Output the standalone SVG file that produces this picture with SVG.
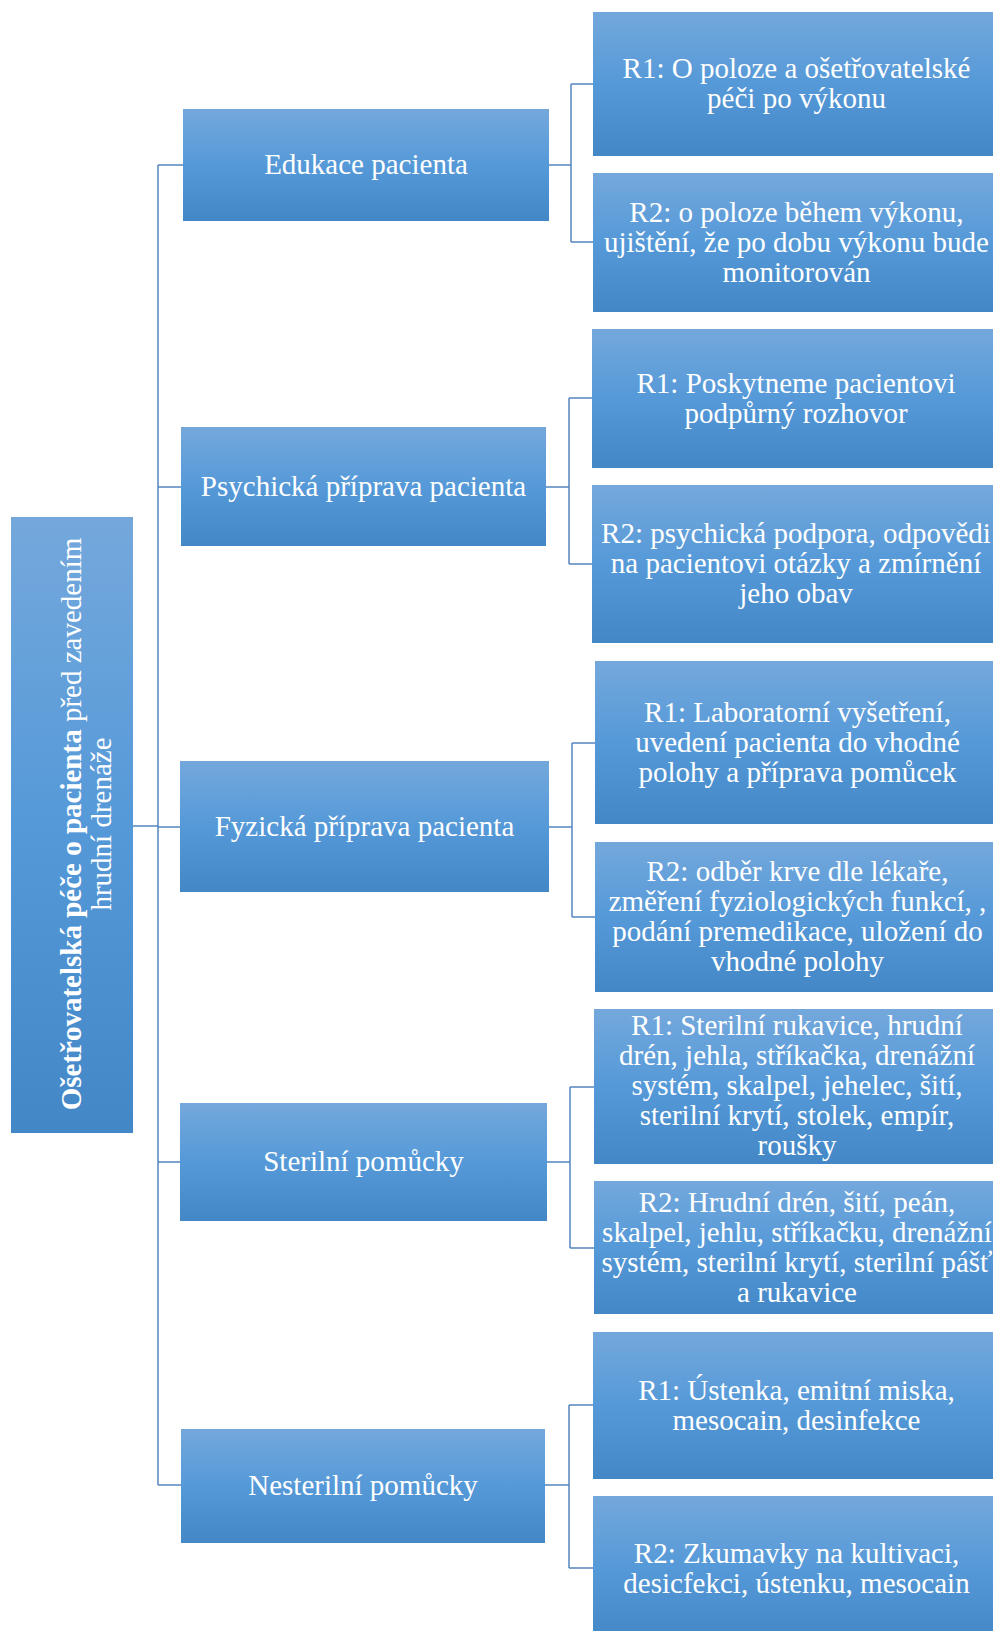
<svg xmlns="http://www.w3.org/2000/svg" width="993" height="1631" viewBox="0 0 993 1631">
  <style>
    .box { fill: url(#boxFill); }
    .lbl { font-family: "Liberation Serif", "Times New Roman", serif; font-size: 29px; fill: #ffffff; text-anchor: middle; }
    .conn { fill: none; stroke: #5485bf; stroke-width: 1.5; }
    .b { font-weight: bold; }
  </style>
  <defs>
    <linearGradient id="boxFill" x1="0" y1="0" x2="0" y2="1">
      <stop offset="0" stop-color="#74a8dc"/>
      <stop offset="0.5" stop-color="#5599d8"/>
      <stop offset="1" stop-color="#4387c7"/>
    </linearGradient>
  </defs>

  <rect width="993" height="1631" fill="#ffffff"/>

  <!-- connectors -->
  <g id="connectors" class="conn">
    <path d="M133 826 H158"/>
    <path d="M158 165 V1485"/>
    <path d="M158 165 H183 M158 487 H181 M158 827 H180 M158 1162 H180 M158 1485 H181"/>
    <path d="M549 165 H571 M571 84 V242 M571 84 H593 M571 242 H593"/>
    <path d="M546 487 H569 M569 398 V564 M569 398 H592 M569 564 H592"/>
    <path d="M549 827 H572 M572 743 V917 M572 743 H595 M572 917 H595"/>
    <path d="M547 1162 H570 M570 1087 V1248 M570 1087 H594 M570 1248 H594"/>
    <path d="M545 1485 H569 M569 1405 V1568 M569 1405 H593 M569 1568 H593"/>
  </g>

  <!-- root -->
  <g id="root">
    <rect class="box" x="11" y="517" width="122" height="616"/>
    <text class="lbl" transform="rotate(-90)" x="-824" y="81"><tspan class="b">Ošetřovatelská péče o pacienta</tspan> před zavedením</text>
    <text class="lbl" transform="rotate(-90)" x="-824" y="111">hrudní drenáže</text>
  </g>

  <!-- level 2 -->
  <g id="edukace">
    <rect class="box" x="183" y="109" width="366" height="112"/>
    <text class="lbl" x="366" y="174">Edukace pacienta</text>
  </g>
  <g id="psychicka">
    <rect class="box" x="181" y="427" width="365" height="119"/>
    <text class="lbl" x="363.5" y="496">Psychická příprava pacienta</text>
  </g>
  <g id="fyzicka">
    <rect class="box" x="180" y="761" width="369" height="131"/>
    <text class="lbl" x="364.5" y="836">Fyzická příprava pacienta</text>
  </g>
  <g id="sterilni">
    <rect class="box" x="180" y="1103" width="367" height="118"/>
    <text class="lbl" x="363.5" y="1171">Sterilní pomůcky</text>
  </g>
  <g id="nesterilni">
    <rect class="box" x="181" y="1429" width="364" height="114"/>
    <text class="lbl" x="363" y="1495">Nesterilní pomůcky</text>
  </g>

  <!-- level 3: Edukace -->
  <g id="edukace-r1">
    <rect class="box" x="593" y="12" width="407" height="144"/>
    <text class="lbl" x="796.5" y="78">R1: O poloze a ošetřovatelské</text>
    <text class="lbl" x="796.5" y="108">péči po výkonu</text>
  </g>
  <g id="edukace-r2">
    <rect class="box" x="593" y="173" width="407" height="139"/>
    <text class="lbl" x="796.5" y="222">R2: o poloze během výkonu,</text>
    <text class="lbl" x="796.5" y="252">ujištění, že po dobu výkonu bude</text>
    <text class="lbl" x="796.5" y="282">monitorován</text>
  </g>

  <!-- level 3: Psychická -->
  <g id="psychicka-r1">
    <rect class="box" x="592" y="329" width="408" height="139"/>
    <text class="lbl" x="796" y="393">R1: Poskytneme pacientovi</text>
    <text class="lbl" x="796" y="423">podpůrný rozhovor</text>
  </g>
  <g id="psychicka-r2">
    <rect class="box" x="592" y="485" width="408" height="158"/>
    <text class="lbl" x="796" y="543">R2: psychická podpora, odpovědi</text>
    <text class="lbl" x="796" y="573">na pacientovi otázky a zmírnění</text>
    <text class="lbl" x="796" y="603">jeho obav</text>
  </g>

  <!-- level 3: Fyzická -->
  <g id="fyzicka-r1">
    <rect class="box" x="595" y="661" width="405" height="163"/>
    <text class="lbl" x="797.5" y="722">R1: Laboratorní vyšetření,</text>
    <text class="lbl" x="797.5" y="752">uvedení pacienta do vhodné</text>
    <text class="lbl" x="797.5" y="782">polohy a příprava pomůcek</text>
  </g>
  <g id="fyzicka-r2">
    <rect class="box" x="595" y="842" width="405" height="150"/>
    <text class="lbl" x="797.5" y="881">R2: odběr krve dle lékaře,</text>
    <text class="lbl" x="797.5" y="911">změření fyziologických funkcí, ,</text>
    <text class="lbl" x="797.5" y="941">podání premedikace, uložení do</text>
    <text class="lbl" x="797.5" y="971">vhodné polohy</text>
  </g>

  <!-- level 3: Sterilní -->
  <g id="sterilni-r1">
    <rect class="box" x="594" y="1009" width="406" height="155"/>
    <text class="lbl" x="797" y="1035">R1: Sterilní rukavice, hrudní</text>
    <text class="lbl" x="797" y="1065">drén, jehla, stříkačka, drenážní</text>
    <text class="lbl" x="797" y="1095">systém, skalpel, jehelec, šití,</text>
    <text class="lbl" x="797" y="1125">sterilní krytí, stolek, empír,</text>
    <text class="lbl" x="797" y="1155">roušky</text>
  </g>
  <g id="sterilni-r2">
    <rect class="box" x="594" y="1181" width="406" height="133"/>
    <text class="lbl" x="797" y="1212">R2: Hrudní drén, šití, peán,</text>
    <text class="lbl" x="797" y="1242">skalpel, jehlu, stříkačku, drenážní</text>
    <text class="lbl" x="797" y="1272">systém, sterilní krytí, sterilní pášť</text>
    <text class="lbl" x="797" y="1302">a rukavice</text>
  </g>

  <!-- level 3: Nesterilní -->
  <g id="nesterilni-r1">
    <rect class="box" x="593" y="1332" width="407" height="147"/>
    <text class="lbl" x="796.5" y="1400">R1: Ústenka, emitní miska,</text>
    <text class="lbl" x="796.5" y="1430">mesocain, desinfekce</text>
  </g>
  <g id="nesterilni-r2">
    <rect class="box" x="593" y="1496" width="407" height="144"/>
    <text class="lbl" x="796.5" y="1563">R2: Zkumavky na kultivaci,</text>
    <text class="lbl" x="796.5" y="1593">desicfekci, ústenku, mesocain</text>
  </g>
</svg>
